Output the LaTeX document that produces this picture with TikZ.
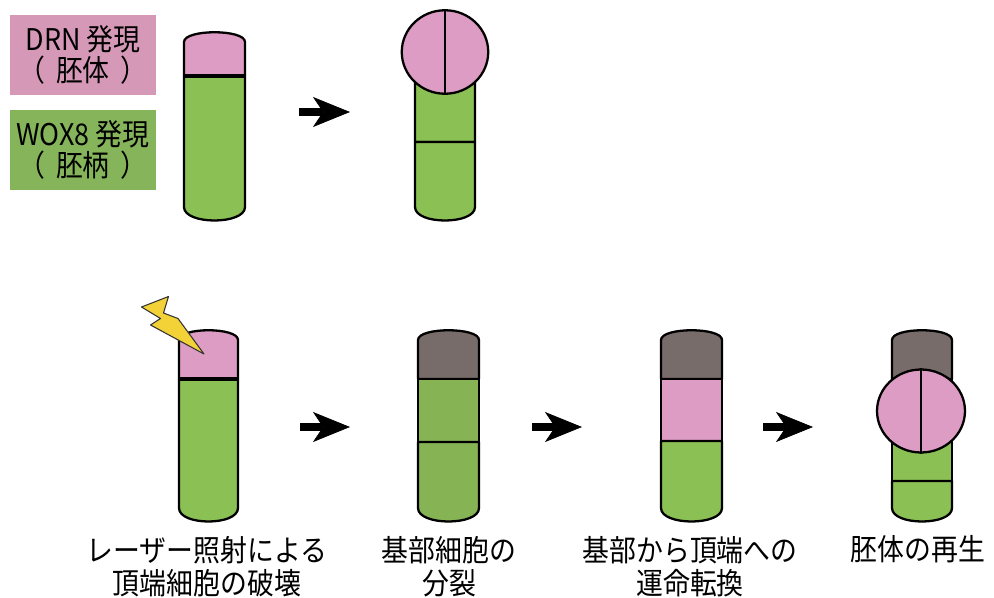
\documentclass[tikz,border=0pt]{standalone}
\usepackage{fontspec}
\setmainfont[FakeStretch=0.9]{Noto Sans CJK JP}
\usetikzlibrary{arrows.meta,shapes.geometric,positioning}

\definecolor{cellpink}{RGB}{221,156,195}
\definecolor{keypink}{RGB}{214,152,183}
\definecolor{cellgreen}{RGB}{139,193,84}
\definecolor{splitgreen}{RGB}{134,180,84}
\definecolor{keygreen}{RGB}{133,180,90}
\definecolor{deadgray}{RGB}{120,108,107}
\definecolor{boltyellow}{RGB}{242,210,55}

% cell pieces: left x, right x, upper y, lower y, colour
\newcommand{\capseg}[5]{\filldraw[cellline,fill=#5] (#1,#4) -- (#1,#3) .. controls (#1,#3-13) and (#2,#3-13) .. (#2,#3) -- (#2,#4) -- cycle;}
\newcommand{\midseg}[5]{\filldraw[cellline,fill=#5] (#1,#3) rectangle (#2,#4);}
\newcommand{\baseseg}[5]{\filldraw[cellline,fill=#5] (#1,#3) -- (#1,#4) .. controls (#1,#4+18) and (#2,#4+18) .. (#2,#4) -- (#2,#3) -- cycle;}
\newcommand{\pgap}{\hspace{0.22cm}}

\begin{document}
\begin{tikzpicture}[x=0.02cm,y=-0.02cm]
	\tikzstyle{cellline} = [draw, line width=1.3pt, line join=round];
	\tikzstyle{keybox} = [minimum width=2.92cm, minimum height=1.62cm, inner sep=0pt,
	align=center, font=\fontsize{17}{17.5}\selectfont];
	\tikzstyle{embryo} = [draw, ellipse, line width=1.3pt, fill=cellpink, inner sep=0pt];
	\tikzstyle{stage} = [align=center, font=\fontsize{17}{18.9}\selectfont];
	\tikzstyle{goes} = [line width=0.17cm,
	-{Stealth[length=0.74cm, width=0.6cm, inset=0.2cm, line width=0.4pt]}];
	\useasboundingbox (0,0) rectangle (994,598);

	% key
	\node[keybox, fill=keypink](drn) at (83,55) {DRN 発現\\（\pgap 胚体\pgap ）};
	\node[keybox, fill=keygreen](wox) at (83,150) {WOX8 発現\\（\pgap 胚柄\pgap ）};

	% normal development
	\capseg{184}{245}{42}{76}{cellpink}
	\baseseg{184}{245}{76}{207}{cellgreen}
	\draw[line width=2pt] (184,76) -- (245,76);
	\capseg{415}{475}{42}{142}{cellgreen}
	\baseseg{415}{475}{142}{207}{cellgreen}
	\node[embryo, minimum width=1.73cm, minimum height=1.67cm](embryoA) at (445,52) {};
	\draw[line width=1.3pt] (embryoA.north) -- (embryoA.south);

	% after ablation
	\capseg{179}{238}{340}{379}{cellpink}
	\baseseg{179}{238}{379}{508}{cellgreen}
	\draw[line width=2pt] (179,379) -- (238,379);
	\filldraw[fill=boltyellow, draw=black!80, line width=0.6pt, line join=round]
	(141.5,307) -- (168.5,296.5) -- (163.5,313) -- (178,318.5)
	-- (204,354) -- (150.5,325) -- (160.5,318.5) -- cycle;

	\capseg{418}{479}{340}{379}{deadgray}
	\midseg{418}{479}{379}{442}{splitgreen}
	\baseseg{418}{479}{442}{508}{splitgreen}

	\capseg{661}{722}{340}{379}{deadgray}
	\midseg{661}{722}{379}{441}{cellpink}
	\baseseg{661}{722}{441}{508}{cellgreen}

	\capseg{892}{952}{340}{379}{deadgray}
	\midseg{892}{952}{379}{481}{cellgreen}
	\baseseg{892}{952}{481}{508}{cellgreen}
	\node[embryo, minimum width=1.76cm, minimum height=1.66cm](embryoB) at (921,411) {};
	\draw[line width=1.3pt] (embryoB.north) -- (embryoB.south);

	% arrows
	\coordinate (t1) at (299,112);
	\coordinate (t2) at (350,112);
	\coordinate (b1) at (300,427);
	\coordinate (b2) at (350,427);
	\coordinate (b3) at (532,427);
	\coordinate (b4) at (582,427);
	\coordinate (b5) at (763,427);
	\coordinate (b6) at (813,427);
	\draw[goes] (t1) to (t2);
	\draw[goes] (b1) to (b2);
	\draw[goes] (b3) to (b4);
	\draw[goes] (b5) to (b6);

	% stage labels
	\node[stage](ablate) at (207,567) {レーザー照射による\\頂端細胞の破壊};
	\node[stage](divide) at (449,567) {基部細胞の\\分裂};
	\node[stage](switch) at (690,567) {基部から頂端への\\運命転換};
	\node[stage](regrow) at (918,549.5) {胚体の再生};
\end{tikzpicture}
\end{document}
